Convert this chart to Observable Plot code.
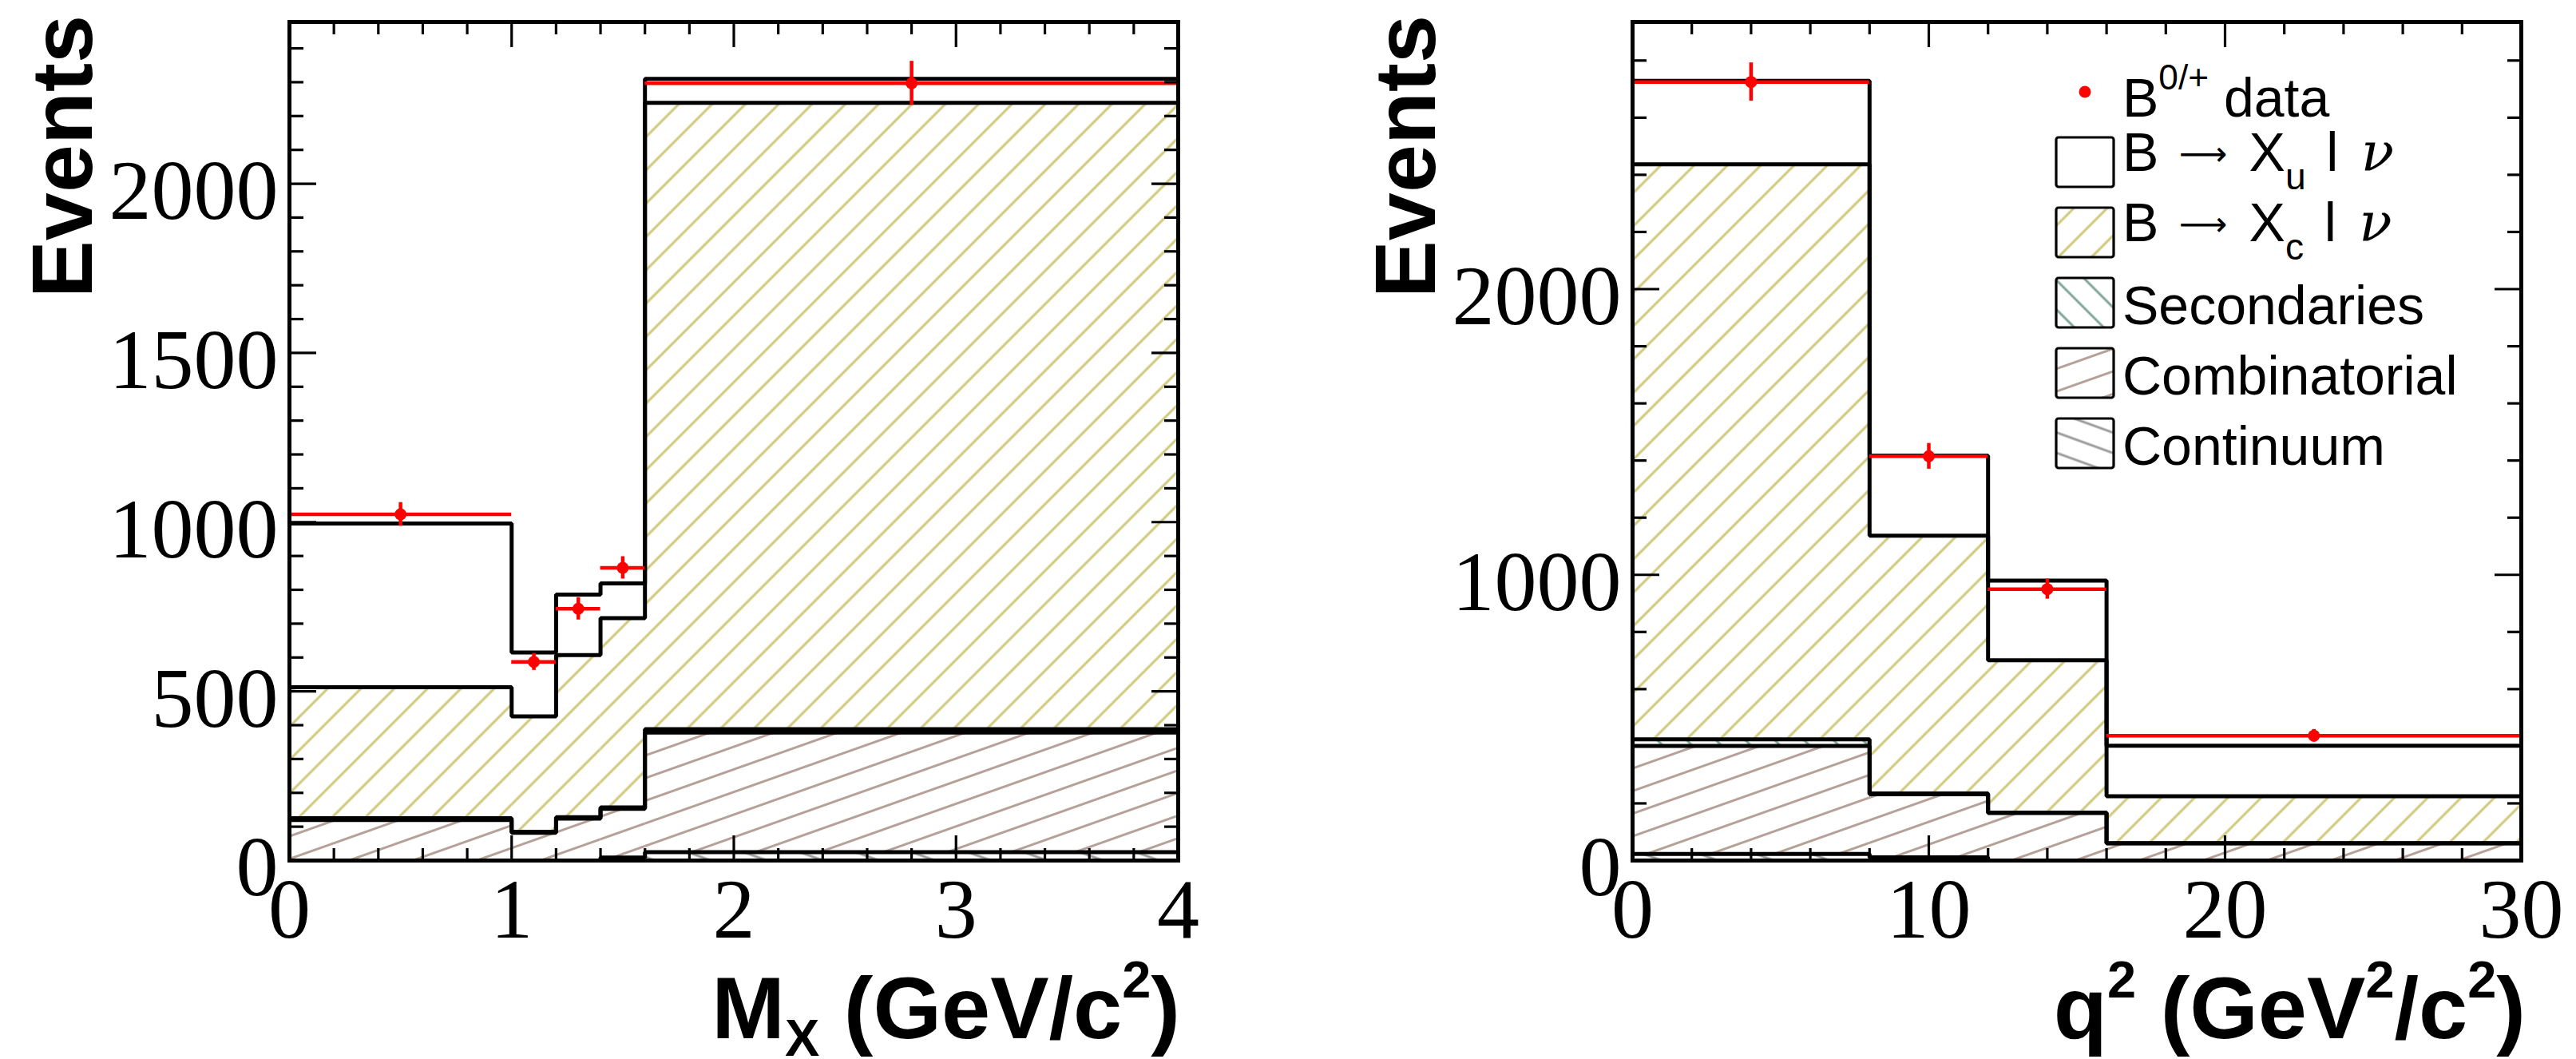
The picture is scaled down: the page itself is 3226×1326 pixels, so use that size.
<!DOCTYPE html>
<html>
<head>
<meta charset="utf-8">
<script src="https://cdn.jsdelivr.net/npm/d3@7"></script>
<script src="https://cdn.jsdelivr.net/npm/@observablehq/plot@0.6"></script>
<style>
  html, body { margin: 0; padding: 0; background: #fff; overflow: hidden; }
  #page { position: relative; width: 3226px; height: 1326px; background: #fff; overflow: hidden; }
  .panel { position: absolute; top: 0; }
  .panel svg { display: block; max-width: none !important; }
  #overlay { position: absolute; left: 0; top: 0; pointer-events: none; }
  #overlay text { white-space: pre; }
</style>
</head>
<body>
<div id="page">
  <div id="left" class="panel" style="left:0px;width:1600px"></div>
  <div id="right" class="panel" style="left:1682px;width:1544px"></div>
</div>
<script>
// ---------------- data ----------------
// stack order bottom -> top: Continuum, Combinatorial, Secondaries, B->Xc l nu, B->Xu l nu
const mxEdges         = [0, 1, 1.2, 1.4, 1.6, 4];
const mxContinuum     = [0, 0, 0, 9, 25];
const mxCombinatorial = [120, 82, 124, 144, 353];
const mxSecondaries   = [5, 3, 4, 4, 10];
const mxXc            = [387, 341, 479, 559, 1851];
const mxXu            = [484, 189, 179, 103, 71];
const mxData          = [1023, 587, 744, 865, 2297];
const mxDataErr       = [35, 25, 33, 33, 65];
const mxXTicks        = [0, 1, 2, 3, 4];
const mxYTicks        = [0, 500, 1000, 1500, 2000];

const q2Edges         = [0, 8, 12, 16, 30];
const q2Continuum     = [23, 11, 0, 0];
const q2Combinatorial = [378, 221, 166, 60];
const q2Secondaries   = [23, 3, 2, 1];
const q2Xc            = [2013, 902, 533, 164];
const q2Xu            = [292, 280, 279, 177];
const q2Data          = [2725, 1415, 950, 437];
const q2DataErr       = [67, 45, 35, 22];
const q2XTicks        = [0, 10, 20, 30];
const q2YTicks        = [0, 1000, 2000];

const layerNames   = ["Continuum", "Combinatorial", "Secondaries", "Xc", "Xu"];
const legendLabels = ["B^{0/+} data", "B → X_{u} l ν", "B → X_{c} l ν", "Secondaries", "Combinatorial", "Continuum"];
const mxTitle = "M_{X} (GeV/c^{2})";
const q2Title = "q^{2} (GeV^{2}/c^{2})";
const yTitle  = "Events";

// ---------------- styles ----------------
const hatch = {
  xc:   {color: "#d0c97e", angle: 45,   gap: 29.5, w: 3.1},
  comb: {color: "#b6a198", angle: 19.5, gap: 26.7, w: 3.0},
  sec:  {color: "#80a598", angle: -45,  gap: 26,   w: 3.0},
  cont: {color: "#9c9c9c", angle: -20,  gap: 24,   w: 3.0}
};
const layerHatch = {Continuum: "cont", Combinatorial: "comb", Secondaries: "sec", Xc: "xc", Xu: null};
const RED = "#ff0000";
const LINE_W = 5;

function addPatterns(svgNode, prefix) {
  const defs = d3.select(svgNode).insert("defs", ":first-child");
  for (const [k, h] of Object.entries(hatch)) {
    const p = defs.append("pattern")
      .attr("id", `${prefix}-${k}`)
      .attr("patternUnits", "userSpaceOnUse")
      .attr("width", 40).attr("height", h.gap)
      .attr("patternTransform", `rotate(${-h.angle})`);
    p.append("rect").attr("x", 0).attr("y", (h.gap - h.w) / 2)
      .attr("width", 40).attr("height", h.w).attr("fill", h.color);
  }
}

function drawPanel(cfg) {
  const {prefix, edges, comps, data, err, xDomain, yDomain, xTicks, xMinorStep, yTicks, yMinorStep, width, marginRight} = cfg;
  const nb = edges.length - 1;
  const bands = [], outline = [];
  const base = new Array(nb).fill(0);
  layerNames.forEach((name, li) => {
    const vals = comps[li];
    for (let i = 0; i < nb; i++) bands.push({layer: name, x1: edges[i], x2: edges[i + 1], y1: base[i], y2: base[i] + vals[i]});
    for (let i = 0; i < nb; i++) base[i] += vals[i];
    for (let i = 0; i < nb; i++) outline.push({layer: name, x: edges[i], y: base[i]});
    outline.push({layer: name, x: edges[nb], y: base[nb - 1]});
  });
  const pts = data.map((v, i) => ({x1: edges[i], x2: edges[i + 1], xc: (edges[i] + edges[i + 1]) / 2, v, lo: v - err[i], hi: v + err[i]}));

  const yMinor = d3.range(0, yDomain[1], yMinorStep).filter(v => !yTicks.includes(v));
  const xMinor = d3.range(0, Math.round((xDomain[1] - xDomain[0]) / xMinorStep) + 1)
    .map(i => +(xDomain[0] + i * xMinorStep).toFixed(6)).filter(v => !xTicks.includes(v));

  const tickStyle = {fill: "none", stroke: "black", strokeWidth: 3.2};
  const labelStyle = {tickSize: 0, fontSize: 106, fontFamily: "'Liberation Serif', 'Times New Roman', serif", label: null, fill: "black", tickFormat: d => `${d}`};

  const marks = [];
  for (const name of layerNames) {
    const h = layerHatch[name];
    if (!h) continue;
    marks.push(Plot.rect(bands.filter(b => b.layer === name), {x1: "x1", x2: "x2", y1: "y1", y2: "y2", fill: `url(#${prefix}-${h})`}));
  }
  marks.push(
    Plot.line(outline, {x: "x", y: "y", z: "layer", curve: "step-after", stroke: "black", strokeWidth: LINE_W, strokeLinejoin: "miter", strokeLinecap: "square"}),
    Plot.ruleY(pts, {x1: "x1", x2: "x2", y: "v", stroke: RED, strokeWidth: 4.5}),
    Plot.ruleX(pts, {x: "xc", y1: "lo", y2: "hi", stroke: RED, strokeWidth: 4.5}),
    Plot.dot(pts, {x: "xc", y: "v", r: 7.5, fill: RED, stroke: null}),
    Plot.axisY(yTicks, {anchor: "left", tickSize: -34, ...tickStyle}),
    Plot.axisY(yMinor, {anchor: "left", tickSize: -18, ...tickStyle}),
    Plot.axisY(yTicks, {anchor: "right", tickSize: -34, ...tickStyle}),
    Plot.axisY(yMinor, {anchor: "right", tickSize: -18, ...tickStyle}),
    Plot.axisX(xTicks, {anchor: "bottom", tickSize: -31, ...tickStyle}),
    Plot.axisX(xMinor, {anchor: "bottom", tickSize: -15, ...tickStyle}),
    Plot.axisX(xTicks, {anchor: "top", tickSize: -31, ...tickStyle}),
    Plot.axisX(xMinor, {anchor: "top", tickSize: -15, ...tickStyle}),
    Plot.frame({stroke: "black", strokeWidth: LINE_W}),
    Plot.axisY(yTicks, {anchor: "left", tickPadding: 14, dy: 10, ...labelStyle}),
    Plot.axisX(xTicks, {anchor: "bottom", tickPadding: 21, ...labelStyle})
  );

  const svg = Plot.plot({
    width, height: 1326,
    marginLeft: 362, marginRight, marginTop: 27, marginBottom: 249,
    x: {domain: xDomain},
    y: {domain: yDomain},
    style: {background: "transparent", overflow: "visible"},
    marks
  });
  addPatterns(svg, prefix);
  return svg;
}

document.getElementById("left").append(drawPanel({
  prefix: "mx", edges: mxEdges,
  comps: [mxContinuum, mxCombinatorial, mxSecondaries, mxXc, mxXu],
  data: mxData, err: mxDataErr,
  xDomain: [0, 4], yDomain: [0, 2478],
  xTicks: mxXTicks, xMinorStep: 0.2, yTicks: mxYTicks, yMinorStep: 100,
  width: 1600, marginRight: 125
}));
document.getElementById("right").append(drawPanel({
  prefix: "q2", edges: q2Edges,
  comps: [q2Continuum, q2Combinatorial, q2Secondaries, q2Xc, q2Xu],
  data: q2Data, err: q2DataErr,
  xDomain: [0, 30], yDomain: [0, 2935],
  xTicks: q2XTicks, xMinorStep: 2, yTicks: q2YTicks, yMinorStep: 200,
  width: 1544, marginRight: 69
}));

// ---------------- titles and legend (overlay) ----------------
function parseRich(s) {
  const out = []; const re = /([_^])\{([^}]*)\}/g; let last = 0, m;
  while ((m = re.exec(s))) {
    if (m.index > last) out.push({t: s.slice(last, m.index)});
    out.push({t: m[2], k: m[1] === "_" ? "sub" : "sup"});
    last = re.lastIndex;
  }
  if (last < s.length) out.push({t: s.slice(last)});
  const res = [];
  for (const p of out) {
    if (!p.k && /[ν→]/.test(p.t)) {
      p.t.split(/([ν→])/).filter(x => x.length).forEach(x =>
        res.push(x === "ν" ? {t: x, k: "greek"} : x === "→" ? {t: "⟶", k: "arrow"} : {t: x}));
    } else res.push(p);
  }
  return res;
}
function richText(g, str, fs, opt) {
  const t = g.append("text").attr("font-size", fs);
  let shift = 0, prev = null;
  for (const p of parseRich(str)) {
    const ts = t.append("tspan").text(p.t);
    let target = 0, dx = 0;
    if (p.k === "sub") { ts.attr("font-size", fs * opt.subScale); target = fs * opt.subShift; }
    else if (p.k === "sup") { ts.attr("font-size", fs * opt.supScale); target = -fs * opt.supShift; }
    else if (p.k === "greek") { ts.attr("font-family", "'DejaVu Serif', 'Liberation Serif', serif").attr("font-style", "italic"); dx = fs * 0.14; }
    else if (p.k === "arrow") {
      ts.attr("font-family", "'DejaVu Sans', sans-serif").attr("font-size", fs * 0.62);
      target = -fs * 0.1; dx = fs * 0.1;
    } else if (prev === "arrow") { dx = fs * 0.12; }
    else if (prev === "sub") { dx = fs * 0.1; }
    if (opt.spacing && dx) ts.attr("dx", dx);
    if (target !== shift) { ts.attr("dy", target - shift); shift = target; }
    prev = p.k || null;
  }
  return t;
}

const ov = d3.select("#page").append("svg").attr("id", "overlay")
  .attr("width", 3226).attr("height", 1326)
  .attr("font-family", "'Liberation Sans', Arial, Helvetica, sans-serif");
addPatterns(ov.node(), "lg");

// axis titles
const titleOpt = {subScale: 0.59, subShift: 0.2, supScale: 0.59, supShift: 0.46, spacing: false};
for (const xb of [115, 1797]) {
  ov.append("text").attr("transform", `translate(${xb},19) rotate(-90)`)
    .attr("text-anchor", "end").attr("font-weight", "bold").attr("font-size", 108).text(yTitle);
}
richText(ov, mxTitle, 110, titleOpt).attr("x", 1478).attr("y", 1300).attr("text-anchor", "end").attr("font-weight", "bold");
richText(ov, q2Title, 110, titleOpt).attr("x", 3163).attr("y", 1300).attr("text-anchor", "end").attr("font-weight", "bold");

// legend
const lg = ov.append("g");
const legendOpt = {subScale: 0.68, subShift: 0.34, supScale: 0.65, supShift: 0.5, spacing: true};
const fillsForLegend = [null, "white", "url(#lg-xc)", "url(#lg-sec)", "url(#lg-comb)", "url(#lg-cont)"];
legendLabels.forEach((label, i) => {
  const cy = 115 + i * 88;
  if (i === 0) {
    lg.append("circle").attr("cx", 2611).attr("cy", cy).attr("r", 7.5).attr("fill", RED);
  } else {
    lg.append("rect").attr("x", 2575).attr("y", cy - 31).attr("width", 72).attr("height", 62).attr("rx", 3)
      .attr("fill", fillsForLegend[i]).attr("stroke", "black").attr("stroke-width", 3.2);
  }
  const hasSub = label.includes("_{"), hasSup = label.includes("^{");
  const base = cy + (hasSub ? 11 : hasSup ? 31 : 27);
  richText(lg, label, 68, legendOpt).attr("x", 2658).attr("y", base);
});
</script>
</body>
</html>
